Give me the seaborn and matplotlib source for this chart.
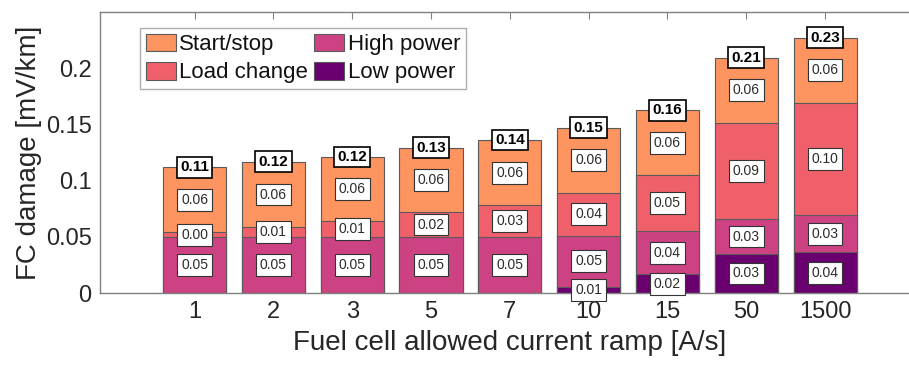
import numpy as np
import pandas as pd
import matplotlib
matplotlib.use("Agg")
import matplotlib.pyplot as plt
from matplotlib.patches import Patch
import seaborn as sns

# values (mV/km)
ramps = ["1", "2", "3", "5", "7", "10", "15", "50", "1500"]
low_power = [0, 0, 0, 0, 0, 0.0056, 0.0166, 0.0347, 0.0362]
high_power = [0.0495, 0.0500, 0.0500, 0.0500, 0.0495, 0.0451, 0.0385, 0.0311, 0.0331]
load_change = [0.0045, 0.0084, 0.0137, 0.0217, 0.0287, 0.0385, 0.0498, 0.0856, 0.0999]
start_stop = [0.0578, 0.0583, 0.0572, 0.0575, 0.0578, 0.0578, 0.0575, 0.0581, 0.0578]

series = ["Low power", "High power", "Load change", "Start/stop"]
colors = {
    "Start/stop": "#fe9460",
    "Load change": "#f0606b",
    "High power": "#cd4283",
    "Low power": "#6a006f",
}
y_ticks = [0, 0.05, 0.1, 0.15, 0.2]
y_tick_labels = ["0", "0.05", "0.1", "0.15", "0.2"]

df = pd.DataFrame({
    "ramp": ramps,
    "Low power": low_power,
    "High power": high_power,
    "Load change": load_change,
    "Start/stop": start_stop,
})
# cumulative tops, so the stack can be drawn as overlapping bars
tops = df[series].cumsum(axis=1)
tops["ramp"] = df["ramp"]

sns.set_theme(style="white")
plt.rcParams["font.family"] = ["Liberation Sans", "DejaVu Sans"]

fig = plt.figure(figsize=(9.09, 3.65), dpi=100)
ax = fig.add_axes([100 / 909, 72 / 365, 819.6 / 909, 281 / 365])

for name in reversed(series):
    sns.barplot(data=tops, x="ramp", y=name, order=ramps, color=colors[name],
                saturation=1, width=0.8, edgecolor="#5a5a5a", linewidth=0.8,
                errorbar=None, ax=ax)

# segment labels
box = dict(boxstyle="square,pad=0.28", fc="white", ec="#333333", lw=0.8)
for i in range(len(ramps)):
    bottom = 0
    for name in series:
        v = df.loc[i, name]
        if v > 0:
            ax.text(i, bottom + v / 2, f"{v:.2f}", ha="center", va="center",
                    fontsize=10, color="#2b2b2b", bbox=box, zorder=5)
        bottom += v
    ax.text(i, bottom, f"{bottom:.2f}", ha="center", va="center",
            fontsize=11, fontweight="bold", color="black", zorder=6,
            bbox=dict(boxstyle="square,pad=0.22", fc="white", ec="black", lw=1.2))

ax.set_xlim(-1.2, 9.2)
ax.set_ylim(0, 0.25)
ax.set_yticks(y_ticks)
ax.set_yticklabels(y_tick_labels)
ax.tick_params(axis="both", direction="in", length=5, width=0.8, color="#808080",
               labelsize=17, labelcolor="#262626", top=True, right=True, pad=6)
for sp in ax.spines.values():
    sp.set_visible(True)
    sp.set_color("#808080")
    sp.set_linewidth(1.0)

ax.set_xlabel("Fuel cell allowed current ramp [A/s]", fontsize=20, color="#262626",
              labelpad=5)
ax.set_ylabel("FC damage [mV/km]", fontsize=20, color="#262626", labelpad=3)

legend_order = ["Start/stop", "Load change", "High power", "Low power"]
handles = [Patch(facecolor=colors[n], edgecolor="#5a5a5a", lw=0.8) for n in legend_order]
leg = ax.legend(handles, legend_order, ncol=2, loc="upper left",
                bbox_to_anchor=(0.0488, 0.943), borderaxespad=0, fontsize=16,
                fancybox=False, frameon=True, edgecolor="#999999",
                handlelength=1.35, handleheight=0.85, handletextpad=0.15,
                columnspacing=0.3, labelspacing=0.3, borderpad=0.25)
leg.get_frame().set_linewidth(1.0)
for t in leg.get_texts():
    t.set_color("#111111")

fig.savefig("out.png", dpi=100)
